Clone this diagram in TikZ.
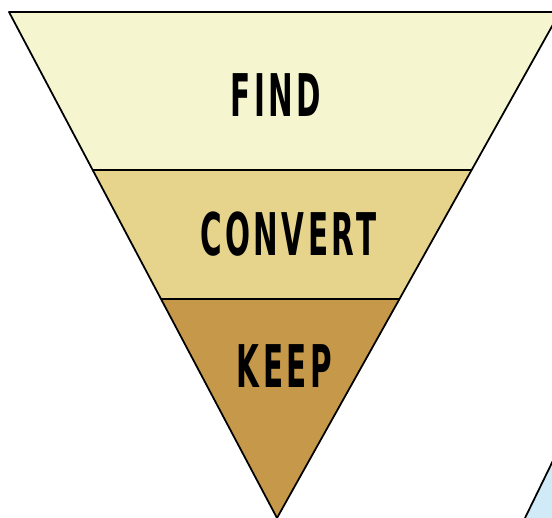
\documentclass[tikz,border=0pt]{standalone}
\usepackage{fontspec}
\newfontfamily\funnelfont[FakeStretch=0.5,LetterSpace=6]{DejaVu Sans}
\definecolor{findcol}{HTML}{F5F5D0}
\definecolor{convertcol}{HTML}{E6D48C}
\definecolor{keepcol}{HTML}{C6994A}
\definecolor{skycol}{HTML}{D0EAF7}
\begin{document}
\begin{tikzpicture}[x=0.02cm,y=-0.02cm,line join=round,
    edge/.style={draw=black,line width=1pt},
    word/.style={font=\funnelfont\bfseries\fontsize{33.5}{33.5}\selectfont,inner sep=0pt}]
    \useasboundingbox (0,0) rectangle (552,518);
    \clip (0,0) rectangle (552,518);
    % corners of the funnel
    \coordinate (tl) at (9,12);
    \coordinate (tr) at (560,12);
    \coordinate (apex) at (277,518);
    \coordinate (al) at (92.7,170);
    \coordinate (ar) at (471.6,170);
    \coordinate (bl) at (161,299);
    \coordinate (br) at (399.5,299);
    % bands
    \fill[findcol] (tl) -- (tr) -- (ar) -- (al) -- cycle;
    \fill[convertcol] (al) -- (ar) -- (br) -- (bl) -- cycle;
    \fill[keepcol] (bl) -- (br) -- (apex) -- cycle;
    \draw[edge] (tl) -- (tr) -- (apex) -- cycle;
    \draw[edge] (al) -- (ar);
    \draw[edge] (bl) -- (br);
    % blue shape in the corner
    \fill[skycol] (525,518) -- (565,436) -- (565,530) -- cycle;
    \draw[edge] (525,518) -- (565,436);
    \node[word] (find) at (276,95) {FIND};
    \node[word] (convert) at (288.5,234.5) {CONVERT};
    \node[word] (keep) at (284.5,366.5) {KEEP};
\end{tikzpicture}
\end{document}
